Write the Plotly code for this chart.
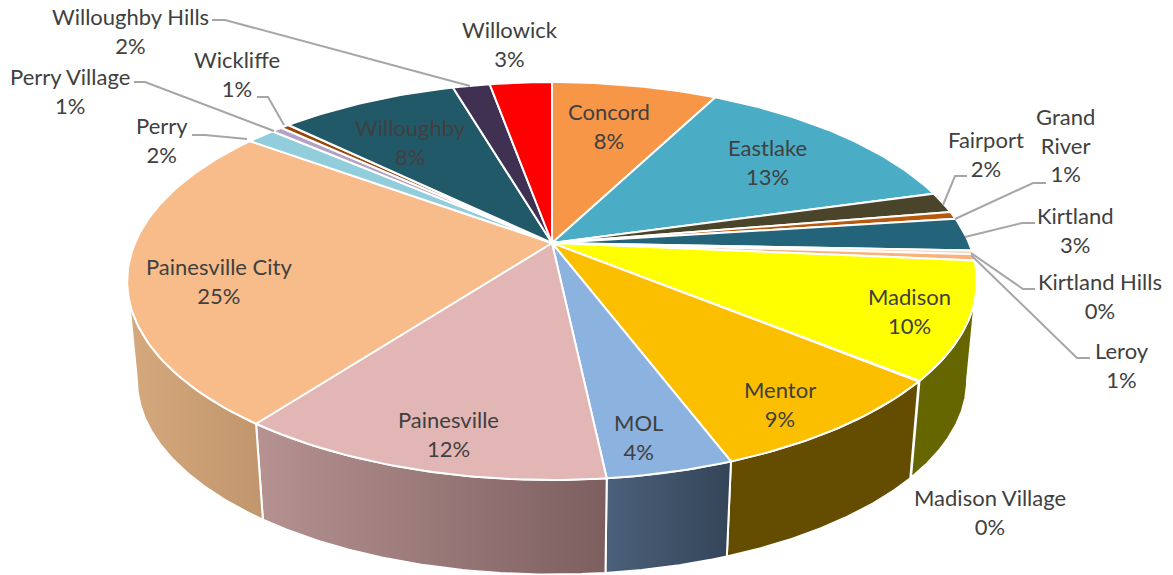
import numpy as np
import plotly.graph_objects as go

# ---- data ----
categories = ["Concord", "Eastlake", "Fairport", "Grand River", "Kirtland", "Kirtland Hills", "Leroy",
              "Madison", "Madison Village", "Mentor", "MOL", "Painesville", "Painesville City",
              "Perry", "Perry Village", "Wickliffe", "Willoughby", "Willoughby Hills", "Willowick"]
values = [7.6, 13.1, 1.7, 0.6, 2.7, 0.3, 0.5, 9.5, 0.05, 8.35, 4.05, 12.0, 24.88, 1.32, 0.5, 0.4, 8.2, 1.7, 2.85]
pct_labels = ["8%", "13%", "2%", "1%", "3%", "0%", "1%", "10%", "0%", "9%", "4%", "12%", "25%",
              "2%", "1%", "1%", "8%", "2%", "3%"]

# ---- styles ----
top_colors = ["#F79646", "#4BACC6", "#4A452A", "#B85A0E", "#24647A", "#FBD5B5", "#F9B27C", "#FFFF00",
              "#FFE699", "#FCBF00", "#8CB2E0", "#E3B6B6", "#F7BC8A", "#92CDDC", "#B3A2C7", "#974806",
              "#215968", "#403152", "#FF0000"]
wall_colors = {
    "Madison": ("#666600", "#666600"),
    "Mentor": ("#644C00", "#644C00"),
    "MOL": ("#344559", "#4B607A"),
    "Painesville": ("#7D5F5F", "#B69292"),
    "Painesville City": ("#C1966C", "#D6A87D"),
}
label_pos = {
    "Concord": (609, 126), "Eastlake": (767, 162), "Fairport": (986, 154), "Grand River": (1065, 145),
    "Kirtland": (1075, 230), "Kirtland Hills": (1100, 296), "Leroy": (1122, 365), "Madison": (909, 311),
    "Madison Village": (990, 512), "Mentor": (780, 404), "MOL": (638, 437), "Painesville": (448, 434),
    "Painesville City": (219, 281), "Perry": (162, 140), "Perry Village": (70, 91), "Wickliffe": (237, 74),
    "Willoughby": (410, 142), "Willoughby Hills": (130, 31), "Willowick": (510, 44),
}
leaders = [
    [(943, 205), (955, 176), (967, 176)],
    [(955, 219), (1033, 183), (1046, 183)],
    [(965, 237), (1022, 223), (1035, 223)],
    [(971, 253), (1023, 289), (1035, 289)],
    [(971, 255), (1077, 358), (1090, 358)],
    [(470, 86), (225, 20), (212, 20)],
    [(284, 125), (268, 97), (257, 97)],
    [(274, 131), (145, 82), (134, 82)],
    [(247, 139), (205, 135), (192, 135)],
]

# ---- perspective model of the pie ----
CX, CY, A, B, K = 552.0, 243.0, 417.0, 191.7, 0.191
WALL_SCALE, WALL_DROP = 0.977, 100.0
VIS_START, VIS_END = np.deg2rad(101), np.deg2rad(259)


def rim(theta):
    u, v = np.sin(theta), np.cos(theta)
    w = 1 + K * v
    return CX + A * u / w, CY - B * v / w


def rim_bottom(theta):
    x, y = rim(theta)
    return CX + WALL_SCALE * (x - CX), CY + WALL_DROP + WALL_SCALE * (y - CY)


fig = go.Figure()
total = sum(values)
edges = np.cumsum([0] + values) / total * 2 * np.pi

# side walls first
for i, name in enumerate(categories):
    if name not in wall_colors:
        continue
    a0, a1 = max(edges[i], VIS_START), min(edges[i + 1], VIS_END)
    th = np.linspace(a0, a1, 80)
    xt, yt = rim(th)
    xb, yb = rim_bottom(th)
    px = np.concatenate([xt, xb[::-1], xt[:1]])
    py = np.concatenate([yt, yb[::-1], yt[:1]])
    c0, c1 = wall_colors[name]
    fig.add_trace(go.Scatter(
        x=px, y=py, mode="lines", fill="toself", hoverinfo="skip",
        line=dict(color="white", width=2),
        fillgradient=dict(type="horizontal", colorscale=[[0, c1], [1, c0]]),
    ))

# top faces
for i, name in enumerate(categories):
    th = np.linspace(edges[i], edges[i + 1], max(3, int((edges[i + 1] - edges[i]) * 60)))
    xt, yt = rim(th)
    px = np.concatenate([[CX], xt, [CX]])
    py = np.concatenate([[CY], yt, [CY]])
    fig.add_trace(go.Scatter(
        x=px, y=py, mode="lines", fill="toself", fillcolor=top_colors[i], hoverinfo="skip",
        line=dict(color="white", width=2), name=name,
    ))

annotations = []
for name, pct in zip(categories, pct_labels):
    x, y = label_pos[name]
    txt = "Grand<br>River<br>" + pct if name == "Grand River" else name + "<br>" + pct
    annotations.append(dict(x=x, y=y, xref="x", yref="y", text=txt, showarrow=False, align="center",
                            font=dict(family="Lato", size=22, color="#404040")))

shapes = []
for pts in leaders:
    path = "M " + " L ".join(f"{x},{y}" for x, y in pts)
    shapes.append(dict(type="path", path=path, xref="x", yref="y",
                       line=dict(color="#A6A6A6", width=2)))

fig.update_layout(
    width=1173, height=575, margin=dict(l=0, r=0, t=0, b=0), showlegend=False,
    paper_bgcolor="white", plot_bgcolor="white",
    xaxis=dict(range=[0, 1173], visible=False, fixedrange=True),
    yaxis=dict(range=[575, 0], visible=False, fixedrange=True),
    annotations=annotations, shapes=shapes,
)
fig.write_html("out.html", config={"displayModeBar": False},
               post_script="document.body.style.margin='0';document.documentElement.style.overflow='hidden';")
